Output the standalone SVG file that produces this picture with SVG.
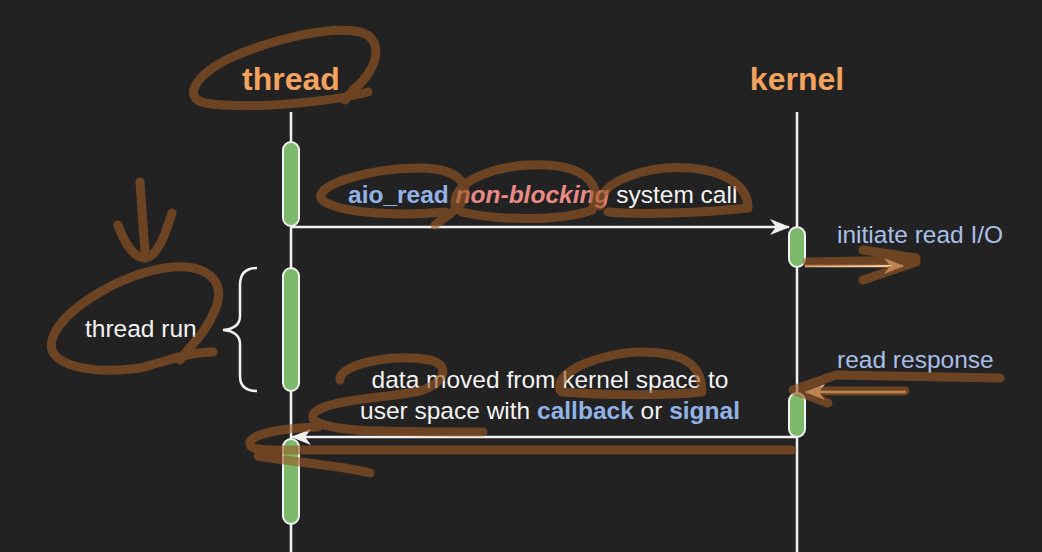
<svg xmlns="http://www.w3.org/2000/svg" width="1042" height="552" viewBox="0 0 1042 552">
<style>
.t{font-family:"Liberation Sans",Arial,sans-serif;font-size:24.5px;fill:#F4F4F4}
.title{font-family:"Liberation Sans",Arial,sans-serif;font-size:32px;font-weight:bold;fill:#F2A35E;text-anchor:middle}
.b{font-weight:bold;fill:#92B3E8}
.nb{font-weight:bold;font-style:italic;fill:#EA8A86}
.lb{fill:#A9BFE8}
.life{stroke:#F2F2F2;stroke-width:2.5;fill:none}
.bar{fill:#7DB96A;stroke:#F2F2F2;stroke-width:2}
.msg{stroke:#F2F2F2;stroke-width:2.5;fill:none}
.pmsg{stroke:#F8C89C;stroke-width:2.5;fill:none}
.ink{fill:none;stroke:#9A5A24;stroke-width:9;stroke-linecap:round;stroke-linejoin:round}
</style>
<defs>
<marker id="aw" markerUnits="userSpaceOnUse" markerWidth="20" markerHeight="16" refX="19" refY="8" orient="auto">
<path d="M0,0 L20,8 L0,16 L6,8 Z" fill="#F2F2F2"/>
</marker>
<marker id="ap" markerUnits="userSpaceOnUse" markerWidth="20" markerHeight="16" refX="19" refY="8" orient="auto">
<path d="M0,0 L20,8 L0,16 L6,8 Z" fill="#F8C89C"/>
</marker>
</defs>
<rect width="1042" height="552" fill="#232222"/>

<g id="thread">
<text class="title" x="291" y="90">thread</text>
<line class="life" x1="291" y1="112" x2="291" y2="552"/>
<rect class="bar" x="283" y="142" width="16" height="84" rx="8"/>
<rect class="bar" x="283" y="268" width="16" height="123" rx="8"/>
<rect class="bar" x="283" y="439" width="16" height="85" rx="8"/>
</g>

<g id="kernel">
<text class="title" x="797" y="90">kernel</text>
<line class="life" x1="797" y1="112" x2="797" y2="552"/>
<rect class="bar" x="789" y="227" width="16" height="40" rx="8"/>
<rect class="bar" x="789" y="393" width="16" height="44" rx="8"/>
</g>

<g id="thread-run">
<text class="t" x="85" y="337">thread run</text>
<path d="M257,268 C245,268 240,274 240,285 L240,316 C240,325 234,329 223,330 C234,331 240,335 240,344 L240,376 C240,386 245,391 257,391" fill="none" stroke="#F2F2F2" stroke-width="2.5"/>
</g>

<g id="connectors">
<line class="msg" x1="291" y1="227" x2="789" y2="227" marker-end="url(#aw)"/>
<line class="pmsg" x1="805" y1="266" x2="903" y2="266" marker-end="url(#ap)"/>
<line class="pmsg" x1="906" y1="392" x2="806" y2="392" marker-end="url(#ap)"/>
<line class="msg" x1="797" y1="437" x2="292" y2="437" marker-end="url(#aw)"/>
</g>

<g id="labels">
<text class="t" x="348" y="203"><tspan class="b">aio_read</tspan> <tspan class="nb">non-blocking</tspan> system call</text>
<text class="t lb" x="837" y="243">initiate read I/O</text>
<text class="t lb" x="837" y="368">read response</text>
<text class="t" x="550" y="388" text-anchor="middle">data moved from kernel space to</text>
<text class="t" x="550" y="419" text-anchor="middle">user space with <tspan class="b">callback</tspan> or <tspan class="b">signal</tspan></text>
</g>

<g id="annotations" opacity="0.62">
<path class="ink" d="M368,92 C330,102 250,110 205,103 C182,98 195,75 230,58 C270,40 330,25 360,32 C385,38 378,70 355,88 L345,100"/>
<path class="ink" d="M140,182 L145,253 M118,225 C125,245 135,258 145,258 C158,256 165,235 172,213"/>
<path class="ink" d="M213,352 C190,352 170,360 140,368 C90,375 45,365 52,340 C60,310 120,275 165,268 C205,262 228,280 215,310 C205,335 190,345 180,360"/>
<path class="ink" d="M445,212 C400,216 340,214 322,200 C312,185 370,168 420,168 C465,168 475,192 455,210 L435,225"/>
<path class="ink" d="M455,205 C452,180 500,163 545,165 C590,167 602,188 592,210 C560,222 495,220 462,212"/>
<path class="ink" d="M600,206 C598,180 650,165 690,168 C735,172 748,192 748,208 C700,213 640,215 608,212"/>
<path class="ink" d="M807,262 L915,260 M863,250 L916,258 M863,280 L916,262"/>
<path class="ink" d="M1000,378 L836,375 L793,390 L828,403 M905,391 L812,391"/>
<path class="ink" d="M340,380 C338,365 390,353 430,360 C455,366 440,388 415,392 C380,398 335,400 318,410 C300,422 330,430 380,431 C420,432 460,432 483,432"/>
<path class="ink" d="M560,390 C555,368 610,352 640,352 C680,352 702,362 702,392 C660,396 600,395 562,392"/>
<path class="ink" d="M318,427 C290,428 255,432 250,442 C248,452 270,450 300,450 L792,450 M258,456 C290,462 340,465 370,473"/>
</g>
</svg>
